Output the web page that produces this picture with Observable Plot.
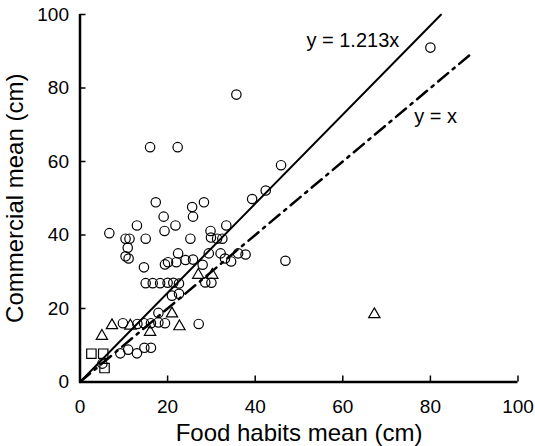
<!DOCTYPE html>
<html><head><meta charset="utf-8">
<script src="https://cdn.jsdelivr.net/npm/d3@7"></script>
<script src="https://cdn.jsdelivr.net/npm/@observablehq/plot@0.6"></script>
<style>body{margin:0;background:#fff} #chart{width:535px;height:446px}</style>
</head><body><div id="chart"></div>
<script>
// Circles (species group 1)
const circleX = [80, 35.7, 16.0, 22.3, 45.9, 42.4, 39.3, 17.3, 28.3, 25.6, 19.1, 25.8, 13.0, 21.8, 33.4, 6.7, 19.3, 29.8,
  10.4, 11.3, 15.0, 25.2, 29.9, 31.3, 32.5, 10.9, 10.4, 11.1, 14.6, 19.4, 20.1, 22.4, 22.0, 24.1, 25.8, 28.0, 29.4, 32.1,
  33.1, 34.5, 36.1, 37.8, 46.9, 15.0, 16.6, 18.3, 20.0, 21.3, 22.6, 28.6, 30.0, 21.0, 22.6, 17.9, 27.1, 9.8, 13.1, 14.6,
  16.2, 17.9, 19.4, 9.2, 11.0, 13.0, 14.7, 16.2, 5.1];
const circleY = [91, 78.2, 63.9, 63.9, 59.0, 52.1, 49.8, 48.9, 48.9, 47.6, 45.0, 45.0, 42.6, 42.6, 42.6, 40.5, 41.1, 41.1,
  39.0, 39.0, 39.0, 39.0, 39.3, 39.0, 39.0, 36.5, 34.2, 33.6, 31.2, 32.0, 32.6, 35.0, 32.6, 33.2, 33.3, 31.9, 35.0, 35.0,
  33.6, 32.8, 35.0, 34.7, 33.0, 26.9, 26.9, 26.9, 27.0, 27.0, 26.8, 27.1, 27.0, 23.5, 24.0, 18.8, 15.8, 16.0, 15.8, 16.0,
  16.0, 16.2, 16.0, 7.8, 8.8, 7.8, 9.3, 9.3, 5.0];
// Triangles (group 2)
const triangleX = [27.0, 30.2, 21.0, 22.7, 7.3, 11.5, 16.0, 5.0, 67.2];
const triangleY = [29.1, 29.1, 18.6, 15.1, 15.4, 15.3, 13.6, 12.5, 18.4];
// Squares (group 3)
const squareX = [2.6, 5.3, 5.6];
const squareY = [7.7, 7.7, 3.8];
// Reference lines
const lineNames = ["y = 1.213x", "y = x"];
const lineSlopes = [1.213, 1];
const lineXEnd = [82.4, 89];
const labelX = [62.3, 81.2];
const labelY = [93.0, 72.2];
// Axes
const xTicks = [0, 20, 40, 60, 80, 100];
const yTicks = [0, 20, 40, 60, 80, 100];
const xTitle = "Food habits mean (cm)";
const yTitle = "Commercial mean (cm)";

const pts = (xs, ys) => xs.map((x, i) => ({x, y: ys[i]}));
const circles = pts(circleX, circleY);
const triangles = pts(triangleX, triangleY);
const squares = pts(squareX, squareY);
const seg = i => [{x: 0, y: 0}, {x: lineXEnd[i], y: lineSlopes[i] * lineXEnd[i]}];
const labels = lineNames.map((t, i) => ({t, x: labelX[i], y: labelY[i]}));

const chart = Plot.plot({
  width: 535, height: 446,
  marginLeft: 79.5, marginRight: 17.5, marginTop: 14, marginBottom: 64.5,
  x: {domain: [0, 100]},
  y: {domain: [0, 100]},
  style: {fontFamily: "'Liberation Sans', Arial, Helvetica, sans-serif", color: "black", background: "white", overflow: "visible"},
  marks: [
    Plot.axisX(xTicks, {tickSize: 6, dy: -6, fill: "none", strokeWidth: 1.5, label: null}),
    Plot.axisX(xTicks, {tickSize: 0, tickPadding: 17, fontSize: 19, label: null}),
    Plot.axisY(yTicks, {tickSize: 6, dx: 6, fill: "none", strokeWidth: 1.5, label: null}),
    Plot.axisY(yTicks, {tickSize: 0, tickPadding: 11, fontSize: 19, label: null}),
    Plot.ruleY([0], {strokeWidth: 2.5}),
    Plot.ruleX([0], {strokeWidth: 2.5}),
    Plot.line(seg(0), {x: "x", y: "y", stroke: "black", strokeWidth: 2}),
    Plot.line(seg(1), {x: "x", y: "y", stroke: "black", strokeWidth: 2.5, strokeDasharray: "13,6,2.5,6"}),
    Plot.dot(circles, {x: "x", y: "y", r: 4.7, stroke: "black", strokeWidth: 1.2, fill: "none"}),
    Plot.dot(triangles, {x: "x", y: "y", symbol: "triangle", r: 4.2, stroke: "black", strokeWidth: 1.2, fill: "none"}),
    Plot.dot(squares, {x: "x", y: "y", symbol: "square", r: 5.3, stroke: "black", strokeWidth: 1.2, fill: "none"}),
    Plot.text(labels, {x: "x", y: "y", text: "t", fontSize: 20, textAnchor: "middle"}),
    Plot.text([xTitle], {text: d => d, frameAnchor: "bottom", textAnchor: "middle", lineAnchor: "middle", dy: 51, fontSize: 24}),
    Plot.text([yTitle], {text: d => d, frameAnchor: "left", textAnchor: "middle", lineAnchor: "middle", rotate: -90, dx: -65, fontSize: 24})
  ]
});
document.getElementById("chart").appendChild(chart);
</script>
</body></html>
